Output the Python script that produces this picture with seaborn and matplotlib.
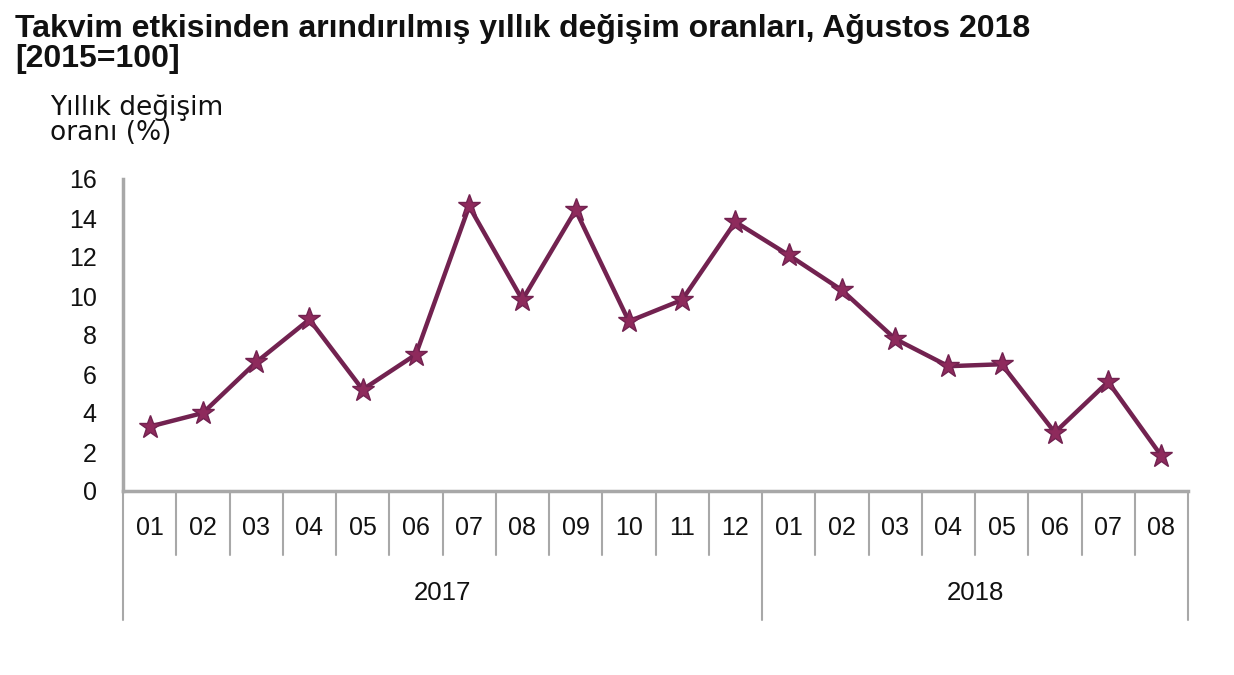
import matplotlib
matplotlib.use("Agg")
import matplotlib.pyplot as plt
import matplotlib.transforms as mtransforms
import seaborn as sns
import pandas as pd

months = ["01", "02", "03", "04", "05", "06", "07", "08", "09", "10", "11", "12",
          "01", "02", "03", "04", "05", "06", "07", "08"]
years = ["2017", "2018"]
year_counts = [12, 8]
values = [3.3, 4.0, 6.6, 8.8, 5.2, 7.0, 14.6, 9.8, 14.4, 8.7, 9.8, 13.8,
          12.1, 10.3, 7.8, 6.4, 6.5, 3.0, 5.6, 1.8]

sns.set_style("white")
plt.rcParams['font.family'] = ['Liberation Sans', 'DejaVu Sans']

df = pd.DataFrame({"pos": range(len(values)), "val": values})

fig = plt.figure(figsize=(12.34, 6.75), dpi=100)
ax = fig.add_axes([123/1234, 1 - 491/675, (1188-123)/1234, (491-179)/675])

sns.lineplot(data=df, x="pos", y="val", ax=ax, color="#722250", linewidth=3.2,
             marker="*", markersize=17, markerfacecolor="#8E2A5C",
             markeredgecolor="#722250", markeredgewidth=1)

grey = "#A8A8A8"
txt = "#111111"
ax.set_xlim(-0.5, len(values) - 0.5)
ax.set_ylim(0, 16)
ax.set_yticks(range(0, 17, 2))
ax.set_yticklabels([str(v) for v in range(0, 17, 2)], fontsize=18, color=txt)
ax.tick_params(axis="y", length=7, width=1.5, color=grey, pad=12)
ax.set_xticks([])
ax.set_xlabel("")
ax.set_ylabel("")
for s in ["top", "right"]:
    ax.spines[s].set_visible(False)
for s in ["left", "bottom"]:
    ax.spines[s].set_color(grey)
    ax.spines[s].set_linewidth(2.5)

trans = mtransforms.blended_transform_factory(ax.transData, ax.transAxes)
month_drop = -(555 - 491) / 312
year_drop = -(620 - 491) / 312

# month labels
for i, m in enumerate(months):
    ax.text(i, -(528 - 491) / 312, m, transform=trans, ha="center", va="center",
            fontsize=18, color=txt)

# separators
boundaries_year = [-0.5]
acc = -0.5
for c in year_counts:
    acc += c
    boundaries_year.append(acc)
for b in range(len(values) + 1):
    xb = b - 0.5
    bottom = year_drop if xb in boundaries_year else month_drop
    ax.plot([xb, xb], [0, bottom], transform=trans, color=grey, lw=1.5,
            clip_on=False)

# year labels
start = -0.5
for y, c in zip(years, year_counts):
    ax.text(start + c / 2, -(593 - 491) / 312, y, transform=trans, ha="center",
            va="center", fontsize=18.5, color=txt)
    start += c

fig.text(15 / 1234, 1 - 29 / 675, "Takvim etkisinden arındırılmış yıllık değişim oranları, Ağustos 2018",
         fontsize=23, fontweight="bold", ha="left", va="center", color=txt)
fig.text(15 / 1234, 1 - 59 / 675, "[2015=100]",
         fontsize=23, fontweight="bold", ha="left", va="center", color=txt)
fig.text(50 / 1234, 1 - 120 / 675, "Yıllık değişim\noranı (%)",
         fontsize=19, ha="left", va="center", color=txt, linespacing=0.95,
         family=["DejaVu Sans"])

fig.savefig("out.png", dpi=100, facecolor="white")
